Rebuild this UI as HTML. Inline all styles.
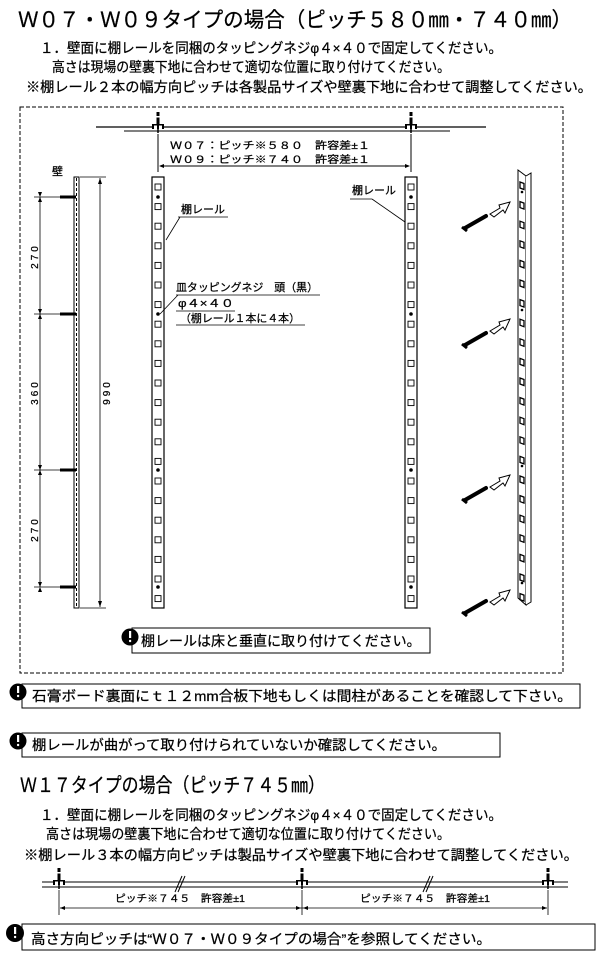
<!DOCTYPE html>
<html><head><meta charset="utf-8">
<style>
html,body{margin:0;padding:0;background:#fff;}
svg{display:block;}
text{font-family:"Liberation Sans","Noto Sans CJK JP",sans-serif;fill:#000;stroke:#000;stroke-width:0.25;}
</style></head>
<body>
<svg id="s" width="600" height="958" viewBox="0 0 600 958" xmlns="http://www.w3.org/2000/svg">
<text x="18" y="27" font-size="21" textLength="554" lengthAdjust="spacingAndGlyphs">Ｗ０７・Ｗ０９タイプの場合（ピッチ５８０㎜・７４０㎜）</text>
<text x="40" y="53" font-size="14" textLength="462" lengthAdjust="spacingAndGlyphs">１．壁面に棚レールを同梱のタッピングネジφ４×４０で固定してください。</text>
<text x="52" y="72" font-size="14" textLength="398" lengthAdjust="spacingAndGlyphs">高さは現場の壁裏下地に合わせて適切な位置に取り付けてください。</text>
<text x="26" y="92" font-size="14" textLength="566" lengthAdjust="spacingAndGlyphs">※棚レール２本の幅方向ピッチは各製品サイズや壁裏下地に合わせて調整してください。</text>

<rect x="20" y="107" width="543" height="566" fill="none" stroke="#000" stroke-width="1" stroke-dasharray="4,2"/>

<line x1="96" y1="127" x2="486" y2="127" stroke="#000" stroke-width="1.2"/>
<line x1="124" y1="131" x2="450" y2="131" stroke="#000" stroke-width="1"/>
<g id="plan"></g>
<text x="170" y="149" font-size="10" textLength="200" lengthAdjust="spacingAndGlyphs">Ｗ０７：ピッチ※５８０　許容差±１</text>
<text x="170" y="163" font-size="10" textLength="200" lengthAdjust="spacingAndGlyphs">Ｗ０９：ピッチ※７４０　許容差±１</text>
<line x1="158" y1="134" x2="158" y2="172" stroke="#000"/>
<line x1="411" y1="134" x2="411" y2="172" stroke="#000"/>
<line x1="160" y1="166" x2="409" y2="166" stroke="#000"/>
<path d="M159,166 l5,-2 v4z M410,166 l-5,-2 v4z"/>

<text x="52" y="175" font-size="11">壁</text>
<rect x="74" y="177" width="5" height="431" fill="#fff" stroke="#000" stroke-width="1"/>
<line x1="76.5" y1="178" x2="76.5" y2="607" stroke="#000" stroke-width="1" stroke-dasharray="3,2"/>
<line x1="80" y1="177" x2="106" y2="177" stroke="#000" stroke-width="0.8"/>
<line x1="80" y1="608" x2="106" y2="608" stroke="#000" stroke-width="0.8"/>
<line x1="100" y1="178" x2="100" y2="607" stroke="#000" stroke-width="0.8"/>
<path d="M100,178 l-2,6 h4z M100,607 l-2,-6 h4z"/>
<text transform="translate(110,392) rotate(-90)" font-size="10" text-anchor="middle" letter-spacing="3">990</text>
<line x1="40" y1="197" x2="40" y2="587" stroke="#000" stroke-width="0.8"/>
<g id="wall"></g>
<text transform="translate(38,256) rotate(-90)" font-size="10" text-anchor="middle" letter-spacing="3">270</text>
<text transform="translate(38,392) rotate(-90)" font-size="10" text-anchor="middle" letter-spacing="3">360</text>
<text transform="translate(38,529) rotate(-90)" font-size="10" text-anchor="middle" letter-spacing="3">270</text>

<g id="rails"></g>

<text x="181" y="213" font-size="11">棚レール</text>
<line x1="178" y1="217" x2="228" y2="217" stroke="#000" stroke-width="0.8"/>
<line x1="180" y1="217" x2="166" y2="240" stroke="#000" stroke-width="0.8"/>
<text x="352" y="194" font-size="11">棚レール</text>
<line x1="350" y1="199" x2="372" y2="199" stroke="#000" stroke-width="0.8"/>
<line x1="372" y1="199" x2="405" y2="222" stroke="#000" stroke-width="0.8"/>
<text x="176" y="291" font-size="11" textLength="142" lengthAdjust="spacingAndGlyphs">皿タッピングネジ　頭（黒）</text>
<line x1="176" y1="295" x2="320" y2="295" stroke="#000" stroke-width="0.8"/>
<text x="178" y="307" font-size="11" textLength="56" lengthAdjust="spacingAndGlyphs">φ４×４０</text>
<line x1="176" y1="311" x2="235" y2="311" stroke="#000" stroke-width="0.8"/>
<text x="180" y="322" font-size="11" textLength="120" lengthAdjust="spacingAndGlyphs">（棚レール１本に４本）</text>
<line x1="176" y1="325" x2="305" y2="325" stroke="#000" stroke-width="0.8"/>
<line x1="178" y1="295" x2="160" y2="314" stroke="#000" stroke-width="0.8"/>

<path d="M518,170 L526,176 L526,605 L518,598 Z" fill="#fff" stroke="#000"/>
<path d="M526,176 L531,173 L531,602 L526,605" fill="#fff" stroke="#000"/>
<g id="persp"></g>

<rect x="132" y="628" width="298" height="25" fill="#fff" stroke="#000"/>
<circle cx="130" cy="637" r="8.5"/>
<rect x="129" y="631" width="2.2" height="7" fill="#fff"/><circle cx="130.1" cy="641" r="1.2" fill="#fff"/>
<text x="141" y="646" font-size="14">棚レールは床と垂直に取り付けてください。</text>

<rect x="22" y="684" width="558" height="24" fill="#fff" stroke="#000"/>
<circle cx="18" cy="692" r="8.5"/>
<rect x="17" y="686" width="2.2" height="7" fill="#fff"/><circle cx="18.1" cy="696" r="1.2" fill="#fff"/>
<text x="32" y="701" font-size="14" textLength="540" lengthAdjust="spacingAndGlyphs">石膏ボード裏面にｔ１２mm合板下地もしくは間柱があることを確認して下さい。</text>

<rect x="22" y="733" width="478" height="24" fill="#fff" stroke="#000"/>
<circle cx="18" cy="741" r="8.5"/>
<rect x="17" y="735" width="2.2" height="7" fill="#fff"/><circle cx="18.1" cy="745" r="1.2" fill="#fff"/>
<text x="32" y="750" font-size="14" textLength="414" lengthAdjust="spacingAndGlyphs">棚レールが曲がって取り付けられていないか確認してください。</text>

<text x="20" y="792" font-size="20" textLength="305" lengthAdjust="spacingAndGlyphs">Ｗ１７タイプの場合（ピッチ７４５㎜）</text>
<text x="40" y="820" font-size="14" textLength="462" lengthAdjust="spacingAndGlyphs">１．壁面に棚レールを同梱のタッピングネジφ４×４０で固定してください。</text>
<text x="46" y="839" font-size="14" textLength="404" lengthAdjust="spacingAndGlyphs">高さは現場の壁裏下地に合わせて適切な位置に取り付けてください。</text>
<text x="24" y="860" font-size="14" textLength="554" lengthAdjust="spacingAndGlyphs">※棚レール３本の幅方向ピッチは製品サイズや壁裏下地に合わせて調整してください。</text>
<line x1="42" y1="882" x2="568" y2="882" stroke="#000"/>
<line x1="42" y1="887" x2="568" y2="887" stroke="#000"/>
<line x1="175" y1="892" x2="182" y2="876" stroke="#000"/><line x1="178" y1="892" x2="185" y2="876" stroke="#000"/>
<line x1="423" y1="892" x2="430" y2="876" stroke="#000"/><line x1="426" y1="892" x2="433" y2="876" stroke="#000"/>
<g id="plan2"></g>
<line x1="59" y1="890" x2="59" y2="915" stroke="#000" stroke-width="0.8"/>
<line x1="302" y1="890" x2="302" y2="915" stroke="#000" stroke-width="0.8"/>
<line x1="548" y1="890" x2="548" y2="915" stroke="#000" stroke-width="0.8"/>
<line x1="60" y1="908" x2="547" y2="908" stroke="#000" stroke-width="0.8"/>
<path d="M60,908 l5,-2 v4z M301,908 l-5,-2 v4z M303,908 l5,-2 v4z M547,908 l-5,-2 v4z"/>
<text x="115" y="902" font-size="10" textLength="130" lengthAdjust="spacingAndGlyphs">ピッチ※７４５　許容差±1</text>
<text x="360" y="902" font-size="10" textLength="130" lengthAdjust="spacingAndGlyphs">ピッチ※７４５　許容差±1</text>

<rect x="22" y="924" width="573" height="26" fill="#fff" stroke="#000"/>
<circle cx="15" cy="933" r="9"/>
<rect x="14" y="927" width="2.2" height="7" fill="#fff"/><circle cx="15.1" cy="937" r="1.2" fill="#fff"/>
<text x="31" y="944" font-size="14" textLength="460" lengthAdjust="spacingAndGlyphs">高さ方向ピッチは“Ｗ０７・Ｗ０９タイプの場合”を参照してください。</text>
</svg>
<script>
var NS="http://www.w3.org/2000/svg";
function el(p,t,a){var e=document.createElementNS(NS,t);for(var k in a)e.setAttribute(k,a[k]);document.getElementById(p).appendChild(e);return e;}
function bracket(p,x,y){
 el(p,"rect",{x:x-6,y:y,width:12,height:5,fill:"#000"});
 el(p,"rect",{x:x-4,y:y+1.5,width:3,height:4,fill:"#fff"});
 el(p,"rect",{x:x+1,y:y+1.5,width:3,height:4,fill:"#fff"});
 el(p,"rect",{x:x-1.5,y:y-12,width:3,height:12,fill:"#000"});
 el(p,"rect",{x:x-1.5,y:y-8,width:3,height:1.5,fill:"#fff"});
 el(p,"line",{x1:x,y1:y+5,x2:x,y2:y+9,stroke:"#000","stroke-width":1.5});
}
bracket("plan",158,124);bracket("plan",411,124);
bracket("plan2",59,880);bracket("plan2",302,880);bracket("plan2",548,880);
var sy=[197,314,470,587];
sy.forEach(function(y){
 el("wall","rect",{x:60,y:y-1.5,width:16,height:3,fill:"#000"});
 el("wall","line",{x1:34,y1:y,x2:60,y2:y,stroke:"#000","stroke-width":0.8});
 el("wall","path",{d:"M40,"+y+" l-2,-5 h4z M40,"+y+" l-2,5 h4z",fill:"#000"});
});
[152,405].forEach(function(x){
 el("rails","rect",{x:x,y:177,width:12,height:431,fill:"#fff",stroke:"#000","stroke-width":1.2});
 for(var i=0;i<22;i++){var y=184+i*19.6;el("rails","rect",{x:x+3,y:y,width:6,height:6,fill:"#fff",stroke:"#000","stroke-width":0.9});}
 sy.forEach(function(y){el("rails","circle",{cx:x+6,cy:y,r:1.8,fill:"#000"});});
});
for(var i=0;i<22;i++){var y=182+i*19.6;el("persp","path",{d:"M520,"+y+" l4,1.5 v6 l-4,-1.5z",fill:"#fff",stroke:"#000","stroke-width":1.3});}
[192,310,466,583].forEach(function(y){el("persp","circle",{cx:522,cy:y,r:1.3,fill:"#000"});});
[[228,205],[345,322],[500,478],[613,593]].forEach(function(p){
 var y=p[0];
 el("persp","line",{x1:465,y1:y,x2:486,y2:y-12,stroke:"#000","stroke-width":4,"stroke-linecap":"round"});
 el("persp","line",{x1:462,y1:y-1,x2:467,y2:y+3,stroke:"#000","stroke-width":3});
 var a=p[1];
 el("persp","path",{d:"M490,"+(a+9)+" L500,"+(a+3)+" L499,"+a+" L510,"+(a-3)+" L505,"+(a+8)+" L503,"+(a+5)+" L494,"+(a+12)+" Z",fill:"#fff",stroke:"#000","stroke-width":1});
});
</script>
</body></html>
